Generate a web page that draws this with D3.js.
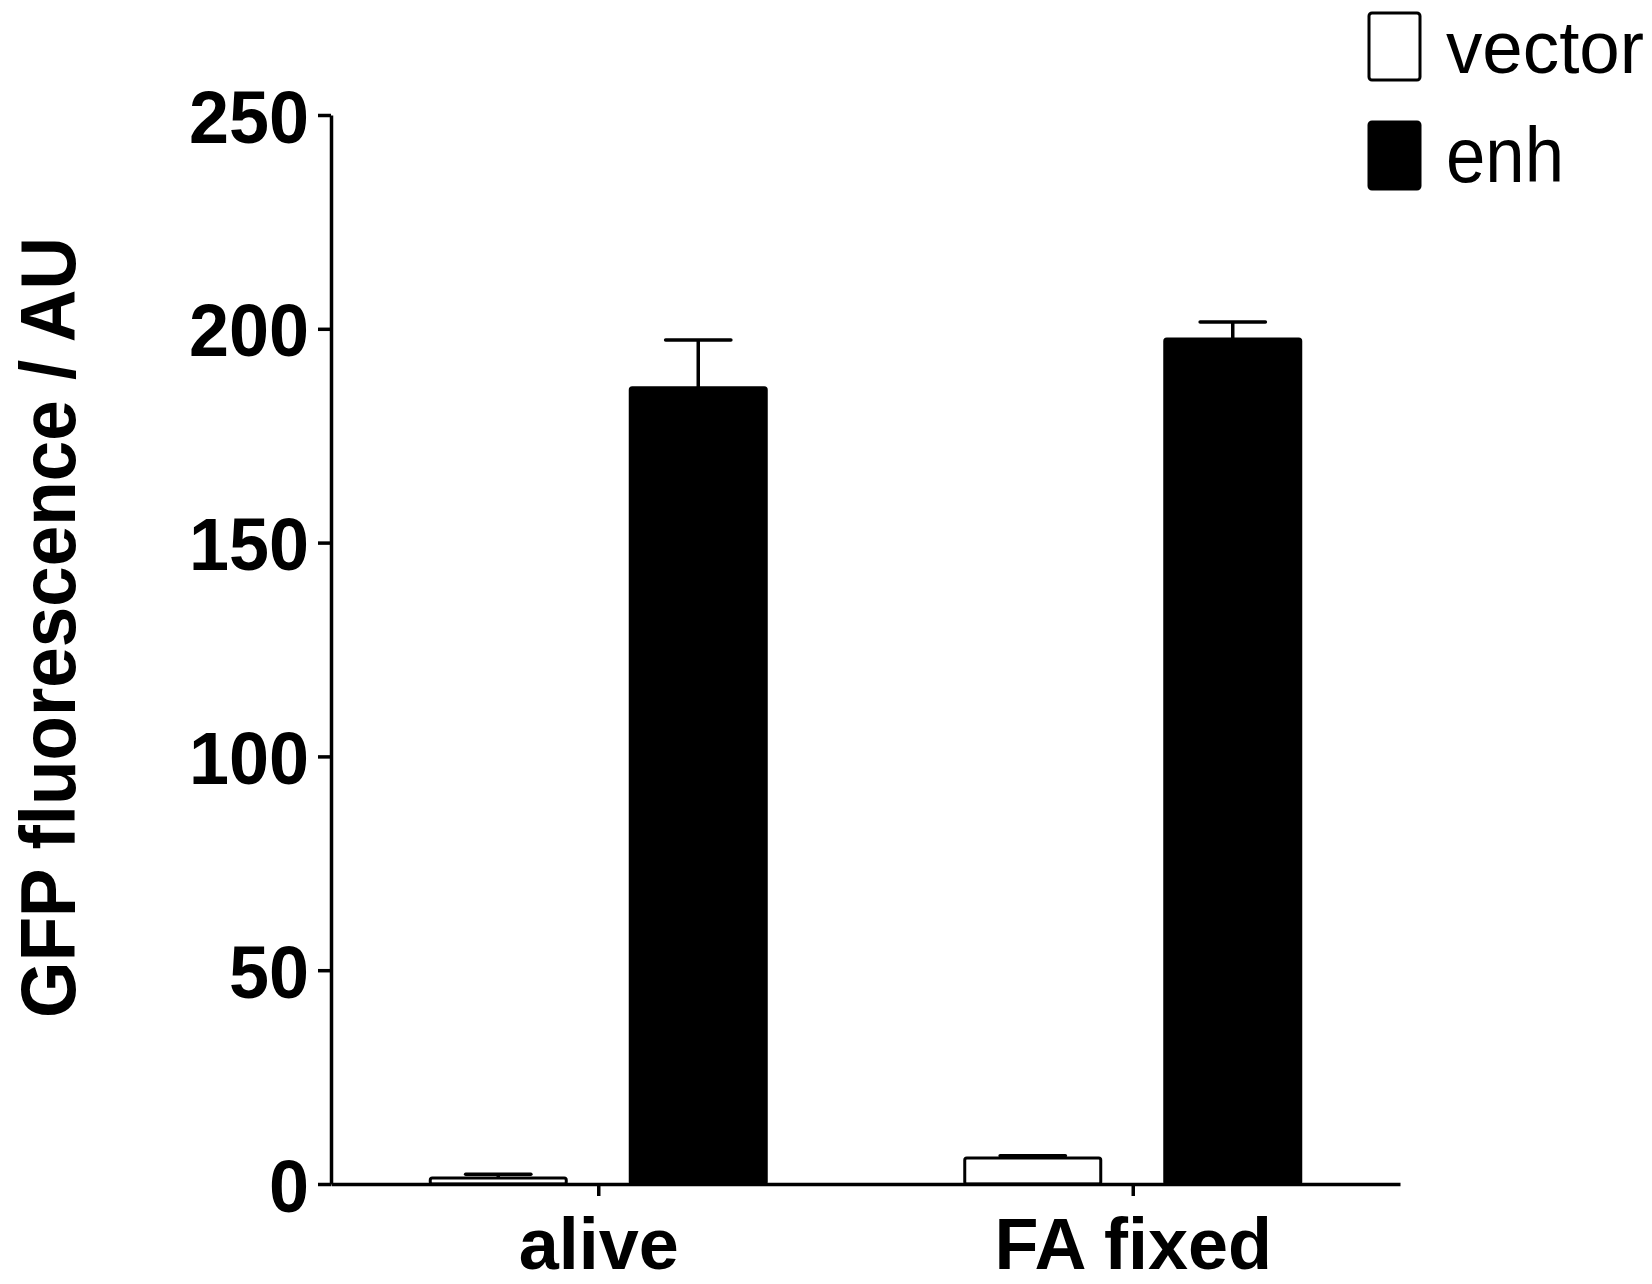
<!DOCTYPE html>
<html>
<head>
<meta charset="utf-8">
<script src="https://cdn.jsdelivr.net/npm/d3@7"></script>
<style>
  body { margin: 0; background: #fff; }
  text { font-family: "Liberation Sans", Arial, sans-serif; fill: #000; }
</style>
</head>
<body>
<div id="chart"></div>
<script>
// data
const groups = ["alive", "FA fixed"];
const series = ["vector", "enh"];
const means = {
  vector: [1.4, 6.1],
  enh: [186.2, 197.6]
};
const errs = {
  vector: [0.9, 0.5],
  enh: [11.2, 4.0]
};
const yTicks = [0, 50, 100, 150, 200, 250];

const width = 1652, height = 1284;
const margin = { top: 115, right: 252, bottom: 100, left: 331 };

const svg = d3.select("#chart")
  .append("svg")
  .attr("width", width)
  .attr("height", height);

const y = d3.scaleLinear()
  .domain([0, 250])
  .range([height - margin.bottom, margin.top]);

const x0 = d3.scalePoint()
  .domain(groups)
  .range([margin.left, width - margin.right])
  .padding(0.5);

const x1 = d3.scaleBand()
  .domain(series)
  .range([-168, 168])
  .paddingInner(0.32)
  .paddingOuter(0);

const rows = [];
groups.forEach((g, i) => {
  series.forEach((s) => {
    rows.push({ group: g, series: s, value: means[s][i], err: errs[s][i] });
  });
});

// bars
svg.append("g")
  .selectAll("rect")
  .data(rows)
  .join("rect")
  .attr("x", (d) => x0(d.group) + x1(d.series))
  .attr("y", (d) => y(d.value))
  .attr("width", x1.bandwidth())
  .attr("height", (d) => y(0) - y(d.value))
  .attr("rx", 2)
  .attr("fill", (d) => (d.series === "enh" ? "#000" : "#fff"))
  .attr("stroke", "#000")
  .attr("stroke-width", 3);

// error bars (upper only)
const capW = x1.bandwidth() * 0.48;
const eb = svg.append("g")
  .attr("stroke", "#000")
  .attr("stroke-width", 3.5)
  .selectAll("g")
  .data(rows)
  .join("g")
  .attr("transform", (d) => `translate(${x0(d.group) + x1(d.series) + x1.bandwidth() / 2},0)`);

eb.append("line")
  .attr("y1", (d) => y(d.value))
  .attr("y2", (d) => y(d.value + d.err));

eb.append("line")
  .attr("x1", -capW / 2)
  .attr("x2", capW / 2)
  .attr("y1", (d) => y(d.value + d.err))
  .attr("y2", (d) => y(d.value + d.err))
  .attr("stroke-linecap", "round");

// y axis
const yAxis = svg.append("g")
  .attr("transform", `translate(${margin.left},0)`)
  .call(d3.axisLeft(y).tickValues(yTicks).tickSize(13).tickPadding(9).tickSizeOuter(0));
yAxis.select(".domain").attr("stroke-width", 3.5);
yAxis.selectAll(".tick line").attr("stroke-width", 3.5);
yAxis.selectAll(".tick text")
  .attr("font-size", 75)
  .attr("font-weight", "bold")
  .attr("dy", "0.36em")
  .attr("textLength", (d) => String(d).length * 40)
  .attr("lengthAdjust", "spacingAndGlyphs");

// x axis
const xAxis = svg.append("g")
  .attr("transform", `translate(0,${y(0)})`)
  .call(d3.axisBottom(x0).tickSize(12).tickPadding(22).tickSizeOuter(0));
xAxis.select(".domain").attr("stroke-width", 3.5);
xAxis.selectAll(".tick line").attr("stroke-width", 3.5);
xAxis.selectAll(".tick text")
  .attr("font-size", 72)
  .attr("font-weight", "bold");

// y axis title
svg.append("text")
  .attr("transform", `translate(75,${(237 + 1018) / 2}) rotate(-90)`)
  .attr("text-anchor", "middle")
  .attr("font-size", 77)
  .attr("font-weight", "bold")
  .attr("textLength", 781)
  .attr("lengthAdjust", "spacingAndGlyphs")
  .text("GFP fluorescence / AU");

// legend
const legendItems = [
  { name: "vector", fill: "#fff", top: 13, size: 75, len: 198 },
  { name: "enh", fill: "#000", top: 122, size: 78, len: 118 }
];
const lg = svg.append("g")
  .selectAll("g")
  .data(legendItems)
  .join("g")
  .attr("transform", (d) => `translate(1369,${d.top})`);

lg.append("rect")
  .attr("width", 51)
  .attr("height", 67)
  .attr("rx", 3)
  .attr("fill", (d) => d.fill)
  .attr("stroke", "#000")
  .attr("stroke-width", 3);

lg.append("text")
  .attr("x", 77)
  .attr("y", 60)
  .attr("font-size", (d) => d.size)
  .attr("textLength", (d) => d.len)
  .attr("lengthAdjust", "spacingAndGlyphs")
  .text((d) => d.name);
</script>
</body>
</html>
